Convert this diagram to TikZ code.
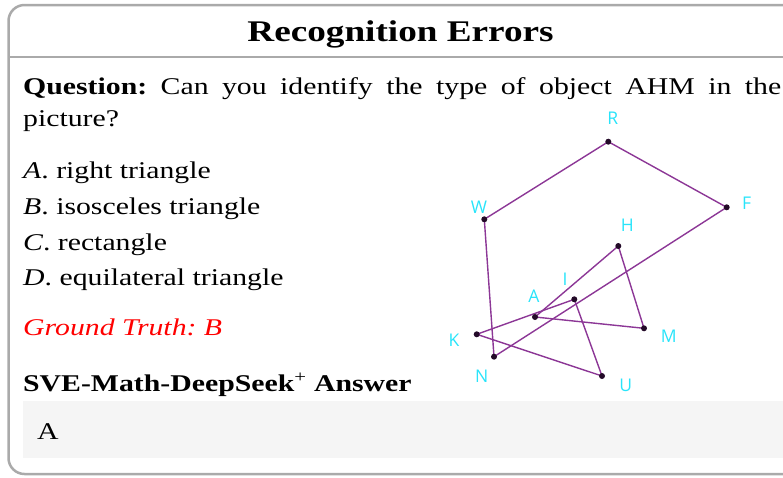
\documentclass[tikz,border=0pt]{standalone}
\usepackage{fontspec}
\setmainfont{Liberation Serif}[FakeStretch=1.24]
\newfontfamily\ptfont{Open Sans}
\usetikzlibrary{positioning}
\definecolor{framegray}{RGB}{170,170,170}
\definecolor{answerbg}{RGB}{245,245,245}
\definecolor{segpurple}{RGB}{140,55,150}
\definecolor{ptcyan}{RGB}{40,228,250}
\definecolor{dotdark}{RGB}{35,10,40}
\colorlet{truthred}{red}
\frenchspacing

\begin{document}
\begin{tikzpicture}[x=1pt,y=-1pt,
  every node/.style={inner sep=0pt,font=\fontsize{24}{29}\selectfont},
  textline/.style={anchor=base west},
  ptlabel/.style={font=\ptfont\fontsize{17.5}{20}\selectfont,text=ptcyan},
  seg/.style={draw=segpurple,line width=1.4pt,line join=round}]
  \clip (0,0) rectangle (783,477);
  \useasboundingbox (0,0) rectangle (783,477);
  % card frame and title
  \draw[framegray,line width=2.5pt,rounded corners=16pt] (8.5,5) rectangle (830,474);
  \draw[framegray,line width=2.5pt] (8.5,57) -- (830,57);
  \node[anchor=base,font=\fontsize{30}{36}\selectfont\bfseries] (title) at (400.5,41.7) {Recognition Errors};
  % question and options
  \node[textline] (q1) at (23,94) {\makebox[758pt][s]{\textbf{Question:} Can you identify the type of object AHM in the}};
  \node[textline] (q2) at (23,126.5) {picture?};
  \node[textline] (optA) at (23,178.5) {\textit{A}. right triangle};
  \node[textline] (optB) at (23,214.3) {\textit{B}. isosceles triangle};
  \node[textline] (optC) at (23,250.1) {\textit{C}. rectangle};
  \node[textline] (optD) at (23,285.9) {\textit{D}. equilateral triangle};
  \node[textline,text=truthred] (truth) at (23,335) {\itshape Ground Truth: B};
  % model answer
  \node[textline] (ans) at (23,391.7) {\textbf{SVE-Math-DeepSeek\textsuperscript{\mdseries+} Answer}};
  \fill[answerbg] (23,401) rectangle (830,458);
  \node[textline] (ansA) at (37,439) {A};
  % figure
  \coordinate (R) at (608.3,141.7);
  \coordinate (W) at (484.3,219.3);
  \coordinate (F) at (726.7,207.3);
  \coordinate (H) at (618.3,246);
  \coordinate (I) at (574.3,299.3);
  \coordinate (A) at (535,317);
  \coordinate (M) at (644,328.3);
  \coordinate (K) at (476.7,334.3);
  \coordinate (N) at (494,356.7);
  \coordinate (U) at (602,376);
  \draw[seg] (W) -- (R) -- (F) -- (N) -- cycle;
  \draw[seg] (A) -- (H) -- (M) -- cycle;
  \draw[seg] (K) -- (I) -- (U) -- cycle;
  \foreach \p in {R,W,F,H,I,A,M,K,N,U}
    \fill[dotdark] (\p) circle (3pt);
  \node[ptlabel] (labR) at (612.7,118.3) {R};
  \node[ptlabel] (labW) at (479,207.3) {W};
  \node[ptlabel] (labF) at (746.7,203.3) {F};
  \node[ptlabel] (labH) at (627.3,225.7) {H};
  \node[ptlabel] (labI) at (565,279) {I};
  \node[ptlabel] (labA) at (534,296) {A};
  \node[ptlabel] (labM) at (668.7,336.7) {M};
  \node[ptlabel] (labK) at (454,340) {K};
  \node[ptlabel] (labN) at (481.7,376.7) {N};
  \node[ptlabel] (labU) at (625.7,385) {U};
\end{tikzpicture}
\end{document}
